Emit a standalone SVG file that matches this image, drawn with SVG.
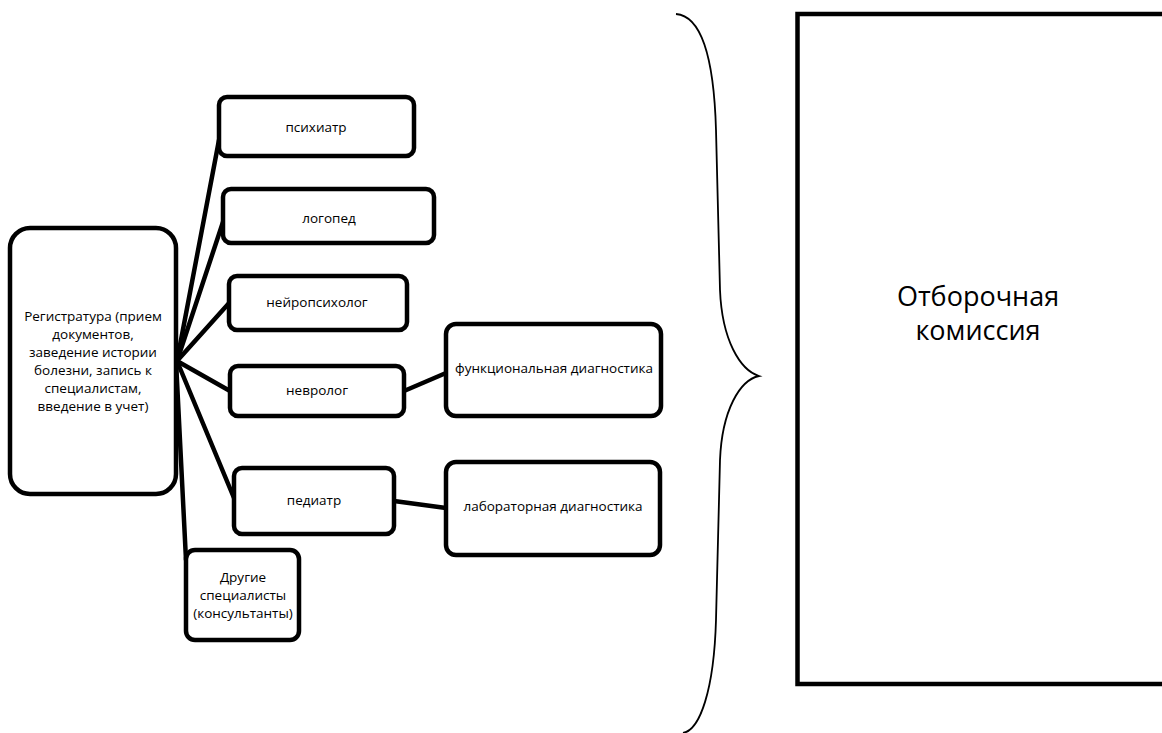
<svg xmlns="http://www.w3.org/2000/svg" width="1162" height="733" viewBox="0 0 1162 733">
<style>
.box{fill:#fff;stroke:#000;stroke-width:4.5}
.ln{stroke:#000;stroke-width:4.5;fill:none;stroke-linecap:round}
.t{font-family:"Open Sans","Liberation Sans",sans-serif;font-size:13.5px;fill:#000;text-anchor:middle}
.big{font-family:"Open Sans","Liberation Sans",sans-serif;font-size:27px;fill:#000;text-anchor:middle}
</style>
<rect width="1162" height="733" fill="#fff"/>
<g id="connectors">
<line class="ln" x1="177" y1="361" x2="219" y2="140"/>
<line class="ln" x1="177" y1="361" x2="223" y2="222"/>
<line class="ln" x1="177" y1="361" x2="230" y2="302"/>
<line class="ln" x1="177" y1="361" x2="230" y2="391"/>
<line class="ln" x1="177" y1="361" x2="234" y2="498"/>
<line class="ln" x1="176" y1="361" x2="186" y2="560"/>
<line class="ln" x1="404" y1="391" x2="446" y2="373"/>
<line class="ln" x1="394" y1="501" x2="446" y2="508"/>
</g>
<g id="brace">
<path d="M676,14 C702,16 714,60 716,130 L720,290 C722,340 740,370 759,376 C740,380 722,410 720,460 L716,620 C714,690 700,730 683,733" fill="none" stroke="#000" stroke-width="1.8"/>
</g>
<g id="registratura">
<rect class="box" x="10" y="228" width="166" height="266" rx="20"/>
<text class="t" x="93" y="321">Регистратура (прием</text>
<text class="t" x="93" y="339">документов,</text>
<text class="t" x="93" y="357">заведение истории</text>
<text class="t" x="93" y="375">болезни, запись к</text>
<text class="t" x="93" y="393">специалистам,</text>
<text class="t" x="93" y="411">введение в учет)</text>
</g>
<g id="psychiatr">
<rect class="box" x="219" y="97" width="195" height="59" rx="8"/>
<text class="t" x="316" y="132">психиатр</text>
</g>
<g id="logoped">
<rect class="box" x="223" y="189" width="211" height="54" rx="8"/>
<text class="t" x="329" y="223">логопед</text>
</g>
<g id="neiropsiholog">
<rect class="box" x="229" y="276" width="178" height="54" rx="8"/>
<text class="t" x="317" y="307">нейропсихолог</text>
</g>
<g id="nevrolog">
<rect class="box" x="230" y="366" width="174" height="50" rx="8"/>
<text class="t" x="317" y="395">невролог</text>
</g>
<g id="funkc">
<rect class="box" x="446" y="324" width="215" height="92" rx="10"/>
<text class="t" x="554" y="373">функциональная диагностика</text>
</g>
<g id="pediatr">
<rect class="box" x="234" y="468" width="160" height="66" rx="8"/>
<text class="t" x="314" y="505">педиатр</text>
</g>
<g id="labor">
<rect class="box" x="446" y="462" width="214" height="93" rx="10"/>
<text class="t" x="553" y="511">лабораторная диагностика</text>
</g>
<g id="drugie">
<rect class="box" x="186" y="550" width="113" height="90" rx="9"/>
<text class="t" x="243" y="582">Другие</text>
<text class="t" x="243" y="600">специалисты</text>
<text class="t" x="243" y="618">(консультанты)</text>
</g>
<g id="komissiya">
<rect x="797.5" y="14" width="380" height="670" fill="#fff" stroke="#000" stroke-width="4.5"/>
<text class="big" x="978" y="306">Отборочная</text>
<text class="big" x="978" y="340">комиссия</text>
</g>
</svg>
